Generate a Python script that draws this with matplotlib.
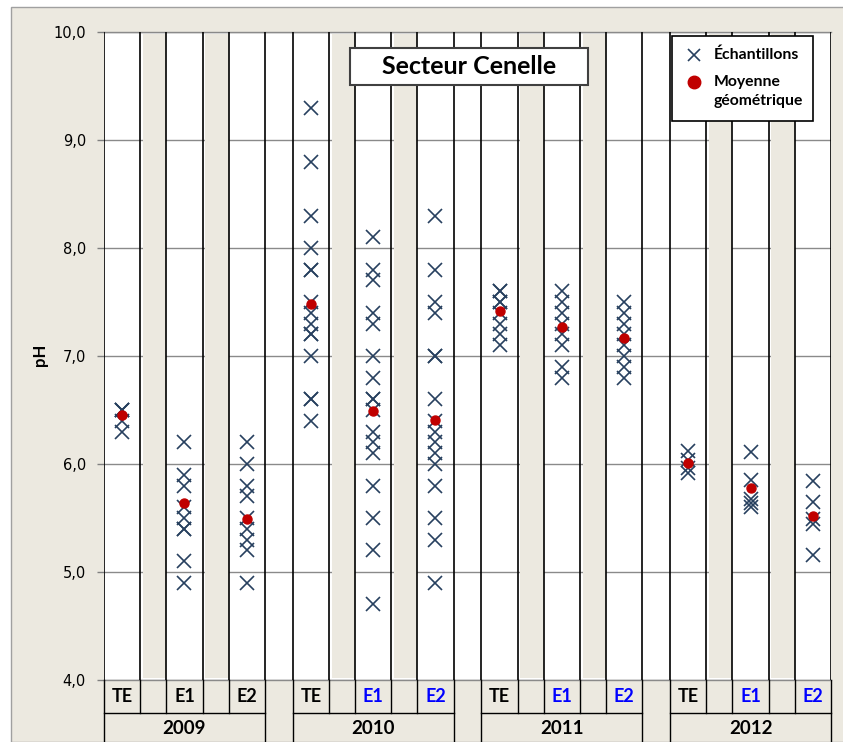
import numpy as np
import matplotlib
matplotlib.use('Agg')
import matplotlib.pyplot as plt
import matplotlib.transforms as mtransforms
from matplotlib.patches import Rectangle
from matplotlib.lines import Line2D

years = ['2009', '2010', '2011', '2012']
stations = ['TE', 'E1', 'E2']

# pH mesurés (TE, E1, E2) pour chaque campagne
ph_2009 = [
    [6.5, 6.5, 6.5, 6.4, 6.3],
    [6.2, 5.9, 5.8, 5.6, 5.5, 5.4, 5.4, 5.1, 4.9],
    [6.2, 6.0, 5.8, 5.7, 5.5, 5.4, 5.3, 5.2, 4.9],
]
ph_2010 = [
    [9.3, 8.8, 8.3, 8.0, 7.8, 7.8, 7.5, 7.4, 7.3, 7.2, 7.2, 7.0, 6.6, 6.6, 6.4],
    [8.1, 7.8, 7.7, 7.4, 7.3, 7.0, 6.8, 6.6, 6.6, 6.5, 6.3, 6.2, 6.1, 5.8, 5.5, 5.2, 4.7],
    [8.3, 7.8, 7.5, 7.4, 7.0, 7.0, 6.6, 6.4, 6.3, 6.2, 6.1, 6.0, 5.8, 5.5, 5.3, 4.9],
]
ph_2011 = [
    [7.6, 7.6, 7.5, 7.5, 7.4, 7.3, 7.2, 7.1],
    [7.6, 7.5, 7.4, 7.3, 7.2, 7.1, 6.9, 6.8],
    [7.5, 7.4, 7.3, 7.2, 7.1, 7.0, 6.9, 6.8],
]
ph_2012 = [
    [6.12, 6.04, 5.96, 5.92],
    [6.11, 5.85, 5.68, 5.64, 5.60],
    [5.84, 5.65, 5.49, 5.44, 5.16],
]

# moyennes géométriques (TE, E1, E2)
geo_2009 = [6.45, 5.635, 5.49]
geo_2010 = [7.48, 6.49, 6.41]
geo_2011 = [7.42, 7.265, 7.17]
geo_2012 = [6.01, 5.78, 5.515]

# couleur des étiquettes de station
label_colors = [
    ['black', 'black', 'black'],
    ['black', 'blue', 'blue'],
    ['black', 'blue', 'blue'],
    ['black', 'blue', 'blue'],
]

all_ph = [ph_2009, ph_2010, ph_2011, ph_2012]
all_geo = [geo_2009, geo_2010, geo_2011, geo_2012]

BEIGE = '#ECE9E0'
MARK = '#27405F'
RED = '#C00000'

W, H = 843, 742


def fx(px):
    return px / W


def fy(py):
    return 1 - py / H


fig = plt.figure(figsize=(W / 100, H / 100), dpi=100)
fig.patch.set_facecolor('white')
fig.patches.append(Rectangle((fx(11), 0), 1, fy(7), transform=fig.transFigure,
                             facecolor=BEIGE, edgecolor='#A0A0A0', lw=1, zorder=-1))

ax = fig.add_axes([fx(104), fy(680), (831 - 104) / W, (680 - 32) / H])
ax.set_facecolor('white')
for s in ax.spines.values():
    s.set_visible(False)

# largeurs des colonnes : station, séparateur, station, séparateur, station
col_w, sep_w, gap_w = 1.0, 0.71, 0.76
slot_w = [col_w, sep_w, col_w, sep_w, col_w]

trans = mtransforms.blended_transform_factory(ax.transData, ax.transAxes)
x = 0.0
bounds = [0.0]
for i, year in enumerate(years):
    left = x
    k = 0
    for j, w in enumerate(slot_w):
        if j % 2 == 0:
            xc = x + w / 2
            vals = all_ph[i][k]
            ax.plot([xc] * len(vals), vals, ls='none', marker='x', ms=9.5,
                    mew=1.2, color=MARK, zorder=4)
            ax.plot([xc], [all_geo[i][k]], ls='none', marker='o', ms=6.5,
                    color=RED, zorder=5)
            ax.text(xc, -0.026, stations[k], transform=trans, ha='center',
                    va='center', fontsize=13, fontweight='bold',
                    family=['Lato', 'DejaVu Sans'], color=label_colors[i][k])
            k += 1
        else:
            ax.add_patch(Rectangle((x + 0.07, 4.02), w - 0.07, 5.96,
                                   facecolor=BEIGE, edgecolor='none', zorder=1))
        x += w
        bounds.append(x)
        if j < len(slot_w) - 1:
            ax.plot([x, x], [0, -0.051], transform=trans, clip_on=False,
                    color='black', lw=1)
    right = x
    # cadre de l'année sous l'axe
    ax.plot([left, right], [-0.051, -0.051], transform=trans, clip_on=False,
            color='black', lw=1)
    for b in (left, right):
        ax.plot([b, b], [0, -0.2], transform=trans, clip_on=False,
                color='black', lw=1)
    ax.text((left + right) / 2, -0.0756, year, transform=trans, ha='center',
            va='center', fontsize=13.5, fontweight='bold',
            family=['Lato', 'DejaVu Sans'])
    if i < len(years) - 1:
        x += gap_w
        bounds.append(x)

for b in bounds:
    ax.axvline(b, color='black', lw=1.2, zorder=3)

ax.set_xlim(0, x)
ax.set_ylim(4, 10)
yt = np.arange(4, 10.5, 1)
ax.set_yticks(yt)
ax.set_yticklabels([f'{v:.1f}'.replace('.', ',') for v in yt],
                   fontsize=10.5, family='DejaVu Sans')
ax.set_xticks([])
ax.tick_params(axis='y', length=5, width=1, color='#808080', pad=8)
ax.grid(axis='y', color='#8A8A8A', lw=1)
ax.set_axisbelow(True)
ax.axhline(10, color='#8A8A8A', lw=1, clip_on=False, zorder=0.6)
ax.axhline(4, color='#8A8A8A', lw=1, clip_on=False, zorder=0.6)

fig.text(fx(40), fy(355), 'pH', rotation=90, ha='center', va='center',
         fontsize=12, fontweight='bold', family=['Lato', 'DejaVu Sans'])

# titre encadré
fig.patches.append(Rectangle((fx(350), fy(85)), (588 - 350) / W, (85 - 48) / H,
                             transform=fig.transFigure, facecolor='white',
                             edgecolor='#404040', lw=1.5, zorder=6))
fig.text(fx(469), fy(66), 'Secteur Cenelle', ha='center', va='center',
         fontsize=18, fontweight='bold', family=['Lato', 'DejaVu Sans'],
         zorder=7)

# légende
fig.patches.append(Rectangle((fx(672), fy(121)), (813 - 672) / W, (121 - 36) / H,
                             transform=fig.transFigure, facecolor='white',
                             edgecolor='black', lw=1.2, zorder=6))
fig.add_artist(Line2D([fx(694)], [fy(55)], transform=fig.transFigure, ls='none',
                      marker='x', ms=9, mew=1.2, color=MARK, zorder=7))
fig.add_artist(Line2D([fx(694)], [fy(82)], transform=fig.transFigure, ls='none',
                      marker='o', ms=9, color=RED, zorder=7))
leg_font = dict(fontsize=11.3, fontweight='bold', family=['Lato', 'DejaVu Sans'],
                va='center', ha='left', zorder=7)
fig.text(fx(714), fy(55), 'Échantillons', **leg_font)
fig.text(fx(714), fy(82), 'Moyenne', **leg_font)
fig.text(fx(714), fy(101), 'géométrique', **leg_font)

fig.savefig('out.png', dpi=100, facecolor=fig.get_facecolor())
